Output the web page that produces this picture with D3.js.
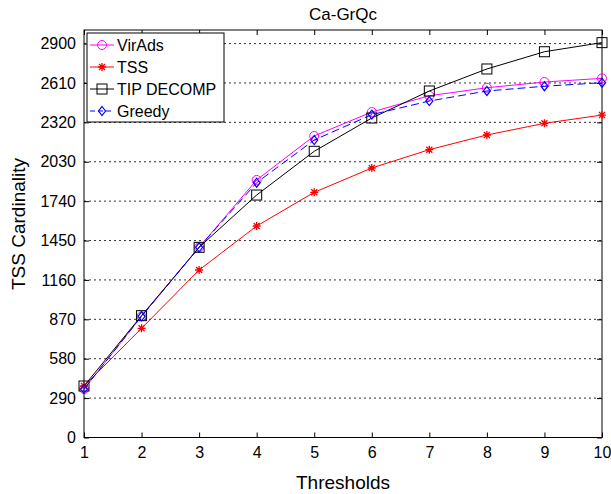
<!DOCTYPE html>
<html>
<head>
<meta charset="utf-8">
<script src="https://cdn.jsdelivr.net/npm/d3@7"></script>
<style>
  body { margin: 0; background: #fff; }
  text { font-family: "Liberation Sans", Arial, Helvetica, sans-serif; fill: #000; }
</style>
</head>
<body>
<svg id="chart" width="611" height="494"></svg>
<script>
const thresholds = [1, 2, 3, 4, 5, 6, 7, 8, 9, 10];
const virAds = [357, 892, 1400, 1896, 2220, 2396, 2516, 2575, 2617, 2644];
const tss = [379, 804, 1233, 1557, 1805, 1984, 2119, 2227, 2313, 2374];
const tipDecomp = [379, 897, 1400, 1785, 2107, 2352, 2551, 2713, 2840, 2907];
const greedy = [357, 892, 1400, 1876, 2190, 2377, 2477, 2551, 2586, 2612];
const yTicks = [0, 290, 580, 870, 1160, 1450, 1740, 2030, 2320, 2610, 2900];

const series = [
  { name: "VirAds", values: virAds, color: "#ff00ff", marker: "circle", dash: null },
  { name: "TSS", values: tss, color: "#ff0000", marker: "star", dash: null },
  { name: "TIP DECOMP", values: tipDecomp, color: "#000000", marker: "square", dash: null },
  { name: "Greedy", values: greedy, color: "#0000ff", marker: "diamond", dash: "8,4" }
];

const margin = { left: 84, right: 9, top: 30, bottom: 56.5 };
const width = 611, height = 494;
const svg = d3.select("#chart");

const x = d3.scaleLinear().domain([1, 10]).range([margin.left, width - margin.right]);
const y = d3.scaleLinear().domain([0, 3000]).range([height - margin.bottom, margin.top]);

// horizontal grid
svg.append("g")
  .selectAll("line")
  .data(yTicks.filter(d => d > 0))
  .enter()
  .append("line")
  .attr("x1", x(1)).attr("x2", x(10))
  .attr("y1", d => y(d)).attr("y2", d => y(d))
  .attr("stroke", "#333")
  .attr("stroke-width", 1)
  .attr("stroke-dasharray", "2,3");

// axes box
svg.append("rect")
  .attr("x", x(1)).attr("y", y(3000))
  .attr("width", x(10) - x(1)).attr("height", y(0) - y(3000))
  .attr("fill", "none").attr("stroke", "#000").attr("stroke-width", 1);

// ticks (inside, both sides)
const xAxisBottom = d3.axisBottom(x).tickValues(thresholds).tickSize(-5).tickPadding(9).tickFormat(d3.format("d"));
const xAxisTop = d3.axisTop(x).tickValues(thresholds).tickSize(-5).tickFormat("");
const yAxisLeft = d3.axisLeft(y).tickValues(yTicks).tickSize(-5).tickPadding(8).tickFormat(d3.format("d"));
const yAxisRight = d3.axisRight(y).tickValues(yTicks).tickSize(-5).tickFormat("");

function styleAxis(g) {
  g.select(".domain").remove();
  g.selectAll(".tick line").attr("stroke", "#000");
  g.selectAll(".tick text").style("font-size", "16px").attr("fill", "#000");
}

svg.append("g").attr("transform", `translate(0,${y(0)})`).call(xAxisBottom).call(styleAxis);
svg.append("g").attr("transform", `translate(0,${y(3000)})`).call(xAxisTop).call(styleAxis);
svg.append("g").attr("transform", `translate(${x(1)},0)`).call(yAxisLeft).call(styleAxis);
svg.append("g").attr("transform", `translate(${x(10)},0)`).call(yAxisRight).call(styleAxis);

// markers
function drawMarker(g, type, color) {
  if (type === "circle") {
    g.append("circle").attr("r", 4.5).attr("fill", "none").attr("stroke", color).attr("stroke-width", 1);
  } else if (type === "square") {
    g.append("rect").attr("x", -5).attr("y", -5).attr("width", 10).attr("height", 10)
      .attr("fill", "none").attr("stroke", color).attr("stroke-width", 1);
  } else if (type === "diamond") {
    g.append("path").attr("d", "M0,-4.5L3.5,0L0,4.5L-3.5,0Z")
      .attr("fill", "none").attr("stroke", color).attr("stroke-width", 1.2);
  } else if (type === "star") {
    g.append("path").attr("d", "M-4,0H4M0,-4V4M-3,-3L3,3M-3,3L3,-3")
      .attr("fill", "none").attr("stroke", color).attr("stroke-width", 1.3);
  }
}

const line = d3.line()
  .x((d, i) => x(thresholds[i]))
  .y(d => y(d));

series.forEach(s => {
  svg.append("path")
    .datum(s.values)
    .attr("d", line)
    .attr("fill", "none")
    .attr("stroke", s.color)
    .attr("stroke-width", 1)
    .attr("stroke-dasharray", s.dash);

  svg.append("g")
    .selectAll("g")
    .data(s.values)
    .enter()
    .append("g")
    .attr("transform", (d, i) => `translate(${x(thresholds[i])},${y(d)})`)
    .each(function () { drawMarker(d3.select(this), s.marker, s.color); });
});

// legend
const legend = svg.append("g").attr("transform", "translate(87,33)");
legend.append("rect")
  .attr("width", 137).attr("height", 89)
  .attr("fill", "#fff").attr("stroke", "#000").attr("stroke-width", 1);

const legendItems = legend.selectAll("g.item")
  .data(series)
  .enter()
  .append("g")
  .attr("class", "item")
  .attr("transform", (d, i) => `translate(0,${12 + i * 22})`);

legendItems.append("line")
  .attr("x1", 3).attr("x2", 27).attr("y1", 0).attr("y2", 0)
  .attr("stroke", d => d.color)
  .attr("stroke-width", 1)
  .attr("stroke-dasharray", d => d.dash ? "5,3" : null);

legendItems.append("g")
  .attr("transform", "translate(15,0)")
  .each(function (d) { drawMarker(d3.select(this), d.marker, d.color); });

legendItems.append("text")
  .attr("x", 30).attr("y", 6)
  .style("font-size", "16px")
  .text(d => d.name);

// title and labels
svg.append("text")
  .attr("x", (x(1) + x(10)) / 2).attr("y", 20)
  .attr("text-anchor", "middle")
  .style("font-size", "17px")
  .text("Ca-GrQc");

svg.append("text")
  .attr("x", (x(1) + x(10)) / 2).attr("y", 489)
  .attr("text-anchor", "middle")
  .style("font-size", "19px")
  .text("Thresholds");

svg.append("text")
  .attr("transform", `translate(25,224) rotate(-90)`)
  .attr("text-anchor", "middle")
  .style("font-size", "19px")
  .text("TSS Cardinality");
</script>
</body>
</html>
